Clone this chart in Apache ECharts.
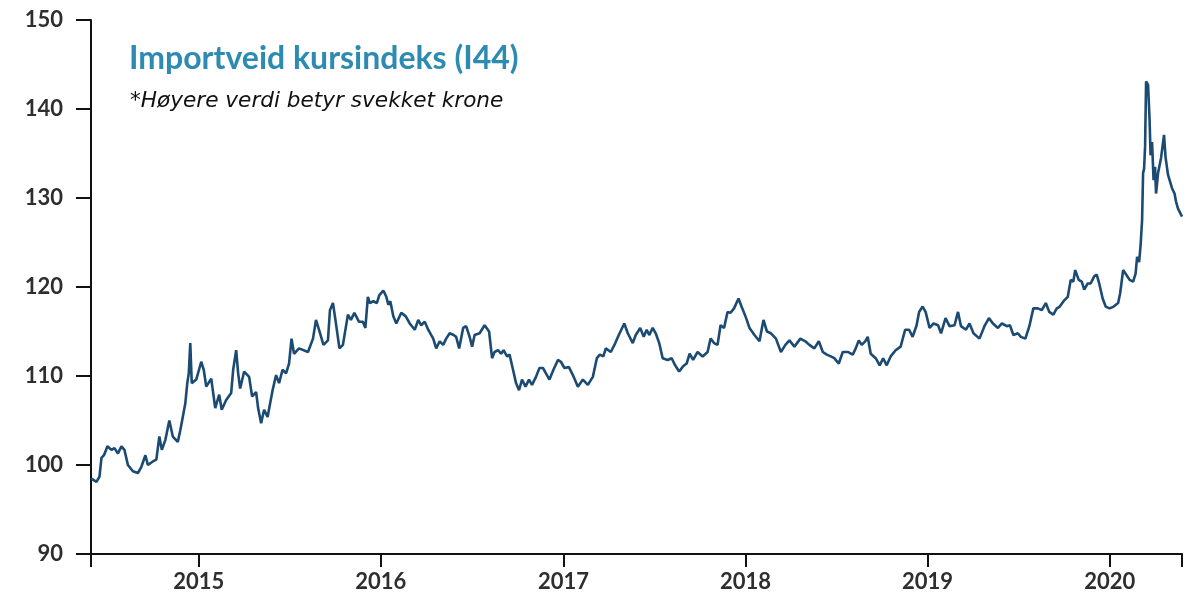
<!DOCTYPE html>
<html>
<head>
<meta charset="utf-8">
<script src="https://cdn.jsdelivr.net/npm/echarts@6/dist/echarts.min.js"></script>
<style>
html,body{margin:0;padding:0;background:#fff;}
#chart{width:1188px;height:598px;}
</style>
</head>
<body>
<div id="chart"></div>
<script>
var titleText = 'Importveid kursindeks (I44)';
var subtitleText = '*Høyere verdi betyr svekket krone';
var yTicks = [90, 100, 110, 120, 130, 140, 150];
var yearLabels = ['2015', '2016', '2017', '2018', '2019', '2020'];
var axisStart = '2014-05-30';
var axisEnd = '2020-05-25';

var dates2014 = ['2014-05-30','2014-06-10','2014-06-16','2014-06-20','2014-06-25','2014-07-02','2014-07-10','2014-07-16','2014-07-23','2014-07-30','2014-08-05','2014-08-12','2014-08-22','2014-09-01','2014-09-08','2014-09-16','2014-09-21','2014-10-01','2014-10-08','2014-10-14','2014-10-19','2014-10-26','2014-11-03','2014-11-10','2014-11-20','2014-11-25','2014-11-30','2014-12-05','2014-12-09','2014-12-12','2014-12-15','2014-12-18','2014-12-27'];
var values2014 = [98.5,98.1,98.7,100.8,101.1,102.1,101.7,101.9,101.3,102.1,101.7,100.0,99.3,99.1,99.8,101.1,100.0,100.4,100.6,103.2,101.7,102.8,105.0,103.2,102.6,103.9,105.4,106.9,109.2,110.3,113.7,109.2,109.6];

var dates2015 = ['2015-01-06','2015-01-11','2015-01-16','2015-01-26','2015-02-03','2015-02-11','2015-02-16','2015-02-25','2015-03-07','2015-03-11','2015-03-17','2015-03-21','2015-03-25','2015-04-02','2015-04-12','2015-04-18','2015-04-26','2015-04-30','2015-05-06','2015-05-12','2015-05-19','2015-05-24','2015-05-29','2015-06-05','2015-06-11','2015-06-18','2015-06-25','2015-07-01','2015-07-06','2015-07-11','2015-07-21','2015-08-08','2015-08-18','2015-08-24','2015-08-30','2015-09-08','2015-09-17','2015-09-21','2015-09-27','2015-10-02','2015-10-10','2015-10-17','2015-10-27','2015-11-02','2015-11-09','2015-11-18','2015-11-26','2015-12-01','2015-12-06','2015-12-10','2015-12-17','2015-12-24','2015-12-29'];
var values2015 = [111.6,110.7,108.8,109.7,106.4,107.9,106.2,107.3,108.1,110.7,112.9,110.3,108.6,110.5,109.9,107.7,108.2,106.4,104.7,106.2,105.4,106.9,108.4,110.1,109.2,110.7,110.3,111.4,114.2,112.5,113.1,112.7,114.2,116.3,115.2,113.5,114.0,117.4,118.2,116.3,113.1,113.5,116.9,116.3,117.1,116.1,116.1,115.4,118.9,118.2,118.4,118.2,119.1];

var dates2016 = ['2016-01-06','2016-01-12','2016-01-16','2016-01-20','2016-01-26','2016-02-01','2016-02-11','2016-02-20','2016-02-28','2016-03-09','2016-03-16','2016-03-22','2016-03-29','2016-04-05','2016-04-15','2016-04-21','2016-04-28','2016-05-05','2016-05-11','2016-05-18','2016-05-26','2016-05-31','2016-06-06','2016-06-14','2016-06-20','2016-06-27','2016-07-02','2016-07-07','2016-07-17','2016-07-27','2016-08-05','2016-08-11','2016-08-16','2016-08-23','2016-08-29','2016-09-03','2016-09-10','2016-09-15','2016-09-22','2016-09-28','2016-10-04','2016-10-10','2016-10-17','2016-10-24','2016-10-30','2016-11-07','2016-11-14','2016-11-21','2016-11-27','2016-12-04','2016-12-12','2016-12-21','2016-12-27'];
var values2016 = [119.6,118.9,118.0,118.4,116.7,115.9,117.1,116.7,115.9,115.2,116.3,115.7,116.1,115.2,114.2,113.1,113.9,113.5,114.2,114.8,114.6,114.4,113.1,115.4,115.6,114.4,113.3,114.6,114.8,115.7,115.0,112.0,112.7,112.9,112.5,112.9,112.2,112.4,110.7,109.2,108.4,109.6,108.8,109.6,109.0,109.9,110.9,110.9,110.3,109.6,110.7,111.8,111.6];

var dates2017 = ['2017-01-03','2017-01-12','2017-01-20','2017-01-30','2017-02-09','2017-02-19','2017-03-01','2017-03-09','2017-03-15','2017-03-22','2017-03-27','2017-04-06','2017-04-15','2017-04-22','2017-04-26','2017-05-03','2017-05-10','2017-05-20','2017-05-26','2017-06-04','2017-06-11','2017-06-17','2017-06-22','2017-06-29','2017-07-05','2017-07-12','2017-07-19','2017-07-29','2017-08-06','2017-08-13','2017-08-21','2017-08-29','2017-09-05','2017-09-11','2017-09-18','2017-09-27','2017-10-07','2017-10-17','2017-10-23','2017-10-30','2017-11-06','2017-11-12','2017-11-19','2017-11-26','2017-12-02','2017-12-09','2017-12-18','2017-12-24'];
var values2017 = [110.9,111.0,110.1,108.8,109.6,109.0,109.9,112.0,112.4,112.2,113.1,112.7,113.7,114.6,114.8,115.9,114.8,113.7,114.6,115.4,114.4,115.2,114.6,115.4,114.8,113.7,112.0,111.8,112.0,111.2,110.5,111.1,111.4,112.5,111.8,112.7,112.2,112.7,114.2,113.7,113.5,115.7,115.4,117.2,117.1,117.6,118.7,117.8];

var dates2018 = ['2018-01-01','2018-01-09','2018-01-19','2018-01-29','2018-02-06','2018-02-13','2018-02-21','2018-03-03','2018-03-13','2018-03-22','2018-03-30','2018-04-09','2018-04-21','2018-05-01','2018-05-09','2018-05-19','2018-05-28','2018-06-05','2018-06-13','2018-06-21','2018-06-28','2018-07-07','2018-07-15','2018-07-25','2018-08-04','2018-08-10','2018-08-16','2018-08-22','2018-08-29','2018-09-03','2018-09-09','2018-09-19','2018-09-27','2018-10-04','2018-10-11','2018-10-19','2018-10-29','2018-11-08','2018-11-17','2018-11-25','2018-12-02','2018-12-10','2018-12-15','2018-12-22','2018-12-28'];
var values2018 = [116.7,115.4,114.6,113.9,116.3,115.0,114.8,114.2,112.7,113.5,114.0,113.3,114.2,113.9,113.5,113.1,113.9,112.7,112.4,112.2,112.0,111.4,112.7,112.7,112.4,113.1,114.0,113.5,113.9,114.4,112.5,112.0,111.2,112.0,111.2,112.2,112.9,113.3,115.2,115.2,114.4,115.7,117.2,117.8,117.2];

var dates2019 = ['2019-01-05','2019-01-13','2019-01-22','2019-01-28','2019-02-06','2019-02-14','2019-02-24','2019-03-03','2019-03-09','2019-03-19','2019-03-26','2019-04-03','2019-04-15','2019-04-25','2019-05-04','2019-05-12','2019-05-22','2019-05-30','2019-06-09','2019-06-15','2019-06-22','2019-07-01','2019-07-07','2019-07-16','2019-07-24','2019-08-01','2019-08-10','2019-08-18','2019-08-26','2019-09-02','2019-09-10','2019-09-17','2019-09-23','2019-10-02','2019-10-09','2019-10-15','2019-10-20','2019-10-24','2019-10-31','2019-11-06','2019-11-11','2019-11-18','2019-11-24','2019-12-01','2019-12-06','2019-12-11','2019-12-18','2019-12-24'];
var values2019 = [115.4,115.9,115.7,114.8,116.5,115.6,115.7,117.2,115.6,115.2,115.9,114.8,114.2,115.6,116.5,115.9,115.4,115.9,115.6,115.7,114.6,114.8,114.4,114.2,115.6,117.6,117.6,117.4,118.2,117.2,116.9,117.6,117.8,118.5,118.9,120.8,120.6,121.9,120.8,120.6,119.7,120.4,120.4,121.2,121.4,120.4,118.7,117.8];

var dates2020 = ['2020-01-01','2020-01-09','2020-01-18','2020-01-22','2020-01-28','2020-02-03','2020-02-10','2020-02-17','2020-02-22','2020-02-25','2020-02-29','2020-03-03','2020-03-06','2020-03-08','2020-03-10','2020-03-12','2020-03-14','2020-03-18','2020-03-21','2020-03-23','2020-03-26','2020-03-29','2020-04-01','2020-04-03','2020-04-07','2020-04-10','2020-04-13','2020-04-17','2020-04-19','2020-04-22','2020-04-27','2020-05-01','2020-05-05','2020-05-10','2020-05-13','2020-05-17','2020-05-20','2020-05-25'];
var values2020 = [117.6,117.8,118.2,119.3,121.9,121.4,120.8,120.6,121.5,123.4,122.8,124.7,127.5,132.8,133.3,135.8,143.1,142.7,138.8,134.8,136.3,132.0,133.5,130.5,132.8,132.6,134.5,134.3,137.1,134.6,132.6,132.6,131.1,130.5,129.6,128.8,129.0,127.9];

function ts(s) { return new Date(s + 'T00:00:00').getTime(); }

var allDates = [].concat(dates2014, dates2015, dates2016, dates2017, dates2018, dates2019, dates2020);
var allValues = [].concat(values2014, values2015, values2016, values2017, values2018, values2019, values2020);
var seriesData = allDates.map(function (d, i) { return [ts(d), allValues[i]]; });

var yearTicks = yearLabels.map(function (y) { return ts(y + '-01-01'); });
var xTickValues = [ts(axisStart)].concat(yearTicks, [ts(axisEnd)]);

var chart = echarts.init(document.getElementById('chart'));
chart.setOption({
  animation: false,
  backgroundColor: '#ffffff',
  title: [
    {
      text: titleText,
      left: 124, top: 38,
      padding: 5,
      textStyle: { fontFamily: 'Lato', fontWeight: 'bold', fontSize: 32, color: '#2d8bb3' }
    },
    {
      text: subtitleText,
      left: 125, top: 85,
      padding: 5,
      textStyle: { fontFamily: 'DejaVu Sans', fontStyle: 'italic', fontWeight: 'normal', fontSize: 21.6, color: '#111111' }
    }
  ],
  grid: { left: 91, right: 6, top: 20, bottom: 44, containLabel: false },
  xAxis: {
    type: 'value',
    min: ts(axisStart),
    max: ts(axisEnd),
    splitLine: { show: false },
    axisLine: { show: true, onZero: false, lineStyle: { color: '#111', width: 2 } },
    axisTick: { show: true, length: 13, lineStyle: { color: '#111', width: 2 }, customValues: xTickValues },
    axisLabel: {
      customValues: yearTicks,
      margin: 17,
      fontFamily: 'Lato', fontSize: 22, fontWeight: 'bold', color: '#2e2e2e',
      formatter: function (v) { return String(new Date(v).getFullYear()); }
    }
  },
  yAxis: {
    type: 'value',
    min: 90, max: 150, interval: 10,
    splitLine: { show: false },
    axisLine: { show: true, lineStyle: { color: '#111', width: 2 } },
    axisTick: { show: true, length: 15, lineStyle: { color: '#111', width: 2 } },
    axisLabel: { margin: 28, fontFamily: 'Lato', fontSize: 22, fontWeight: 'bold', color: '#2e2e2e' }
  },
  series: [{
    type: 'line',
    data: seriesData,
    showSymbol: false,
    symbol: 'none',
    lineStyle: { color: '#1b4a73', width: 2.6 },
    z: 3
  }]
});
</script>
</body>
</html>
